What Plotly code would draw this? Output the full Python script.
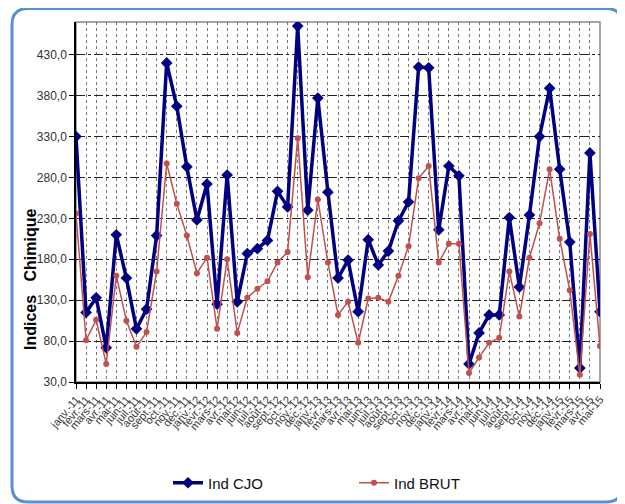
import plotly.graph_objects as go

months = ["janv.", "févr.", "mars", "avr.", "mai", "juin", "juil.", "août", "sept.", "oct.", "nov.", "déc."]
categories = [f"{m}-{y}" for y in ["11", "12", "13", "14"] for m in months] + [f"{m}-15" for m in months[:5]]

ind_cjo = [330, 115, 133, 72, 210, 157, 95, 119, 209, 420, 367, 293,
           228, 272, 125, 283, 128, 187, 193, 203, 263, 244, 465, 240,
           377, 262, 157, 179, 116, 204, 173, 190, 227, 250, 415, 414,
           216, 294, 282, 52, 90, 112, 112, 231, 146, 234, 330, 389,
           290, 201, 47, 310, 116]
ind_brut = [236, 81, 106, 52, 160, 105, 73, 91, 165, 297, 248, 209,
            163, 182, 95, 180, 90, 133, 144, 153, 176, 189, 328, 158,
            253, 176, 112, 128, 78, 132, 133, 128, 160, 196, 279, 294,
            176, 199, 199, 41, 60, 78, 84, 165, 110, 182, 224, 290,
            205, 142, 39, 211, 74]

y_ticks = [30, 80, 130, 180, 230, 280, 330, 380, 430]
y_ticktext = [f"{v},0" for v in y_ticks]
y_title = "Indices\u00a0\u00a0\u00a0Chimique"

FONT = "Liberation Sans, Arial, sans-serif"

fig = go.Figure()
fig.add_trace(go.Scatter(
    x=categories, y=ind_cjo, name="Ind CJO", mode="lines+markers",
    line=dict(color="#000080", width=3.5),
    marker=dict(symbol="diamond", size=9, color="#000080"),
))
fig.add_trace(go.Scatter(
    x=categories, y=ind_brut, name="Ind BRUT", mode="lines+markers",
    line=dict(color="#C0504D", width=1.5),
    marker=dict(symbol="circle", size=6, color="#C0504D"),
))

# page body adds an 8px margin; figure coords = reference coords - 8
OFF = 8
FW, FH = 625, 504
L, R, T, B = 76 - OFF, 600 - OFF, 22 - OFF, 382 - OFF
W, H = R - L, B - T
def px(x):
    return (x - OFF - L) / W
def py(y):
    return (B - (y - OFF)) / H
x0, x1, y0, y1, r = 12, 622, 8.5, 502, 16
path = (f"M {px(x0+r)},{py(y0)} L {px(x1-r)},{py(y0)} Q {px(x1)},{py(y0)} {px(x1)},{py(y0+r)} "
        f"L {px(x1)},{py(y1-r)} Q {px(x1)},{py(y1)} {px(x1-r)},{py(y1)} "
        f"L {px(x0+r)},{py(y1)} Q {px(x0)},{py(y1)} {px(x0)},{py(y1-r)} "
        f"L {px(x0)},{py(y0+r)} Q {px(x0)},{py(y0)} {px(x0+r)},{py(y0)} Z")

fig.update_layout(
    width=FW, height=FH,
    margin=dict(l=L, r=FW - R, t=T, b=FH - B),
    paper_bgcolor="white", plot_bgcolor="white",
    font=dict(family=FONT, color="#222"),
    showlegend=True,
    legend=dict(orientation="h", x=px(168), xanchor="left", y=py(483), yanchor="middle",
                font=dict(family=FONT, size=15, color="#111"), entrywidth=141,
                bgcolor="rgba(0,0,0,0)"),
    shapes=[
        dict(type="path", path=path, xref="paper", yref="paper",
             line=dict(color="#5B8FD0", width=3), layer="below"),
        dict(type="rect", xref="paper", yref="paper", x0=0, x1=1, y0=0, y1=1,
             line=dict(color="#888", width=1.5), layer="below"),
    ],
    annotations=[
        dict(text=y_title, xref="paper", yref="paper", x=px(30), y=py(280),
             xanchor="center", yanchor="middle", textangle=-90, showarrow=False,
             font=dict(family=FONT, size=16, color="black", weight="bold")),
    ],
)
fig.update_xaxes(
    type="category", range=[0, len(categories) - 1],
    tickmode="array", tickvals=categories, ticktext=categories,
    tickangle=-50, tickfont=dict(family=FONT, size=11, color="#333"),
    showgrid=True, gridcolor="#777", griddash="3px,3px", gridwidth=1,
    showline=True, linecolor="black", linewidth=1.5,
    ticks="outside", ticklen=5, tickcolor="black",
    automargin=False, zeroline=False,
)
fig.update_yaxes(
    range=[30, 470],
    tickmode="array", tickvals=y_ticks, ticktext=y_ticktext,
    tickfont=dict(family=FONT, size=12, color="#333"),
    showgrid=True, gridcolor="#222", griddash="dashdot", gridwidth=1,
    showline=True, linecolor="black", linewidth=1.5,
    ticks="outside", ticklen=5, tickcolor="black",
    automargin=False, zeroline=False,
)

fig.write_html("out.html")
